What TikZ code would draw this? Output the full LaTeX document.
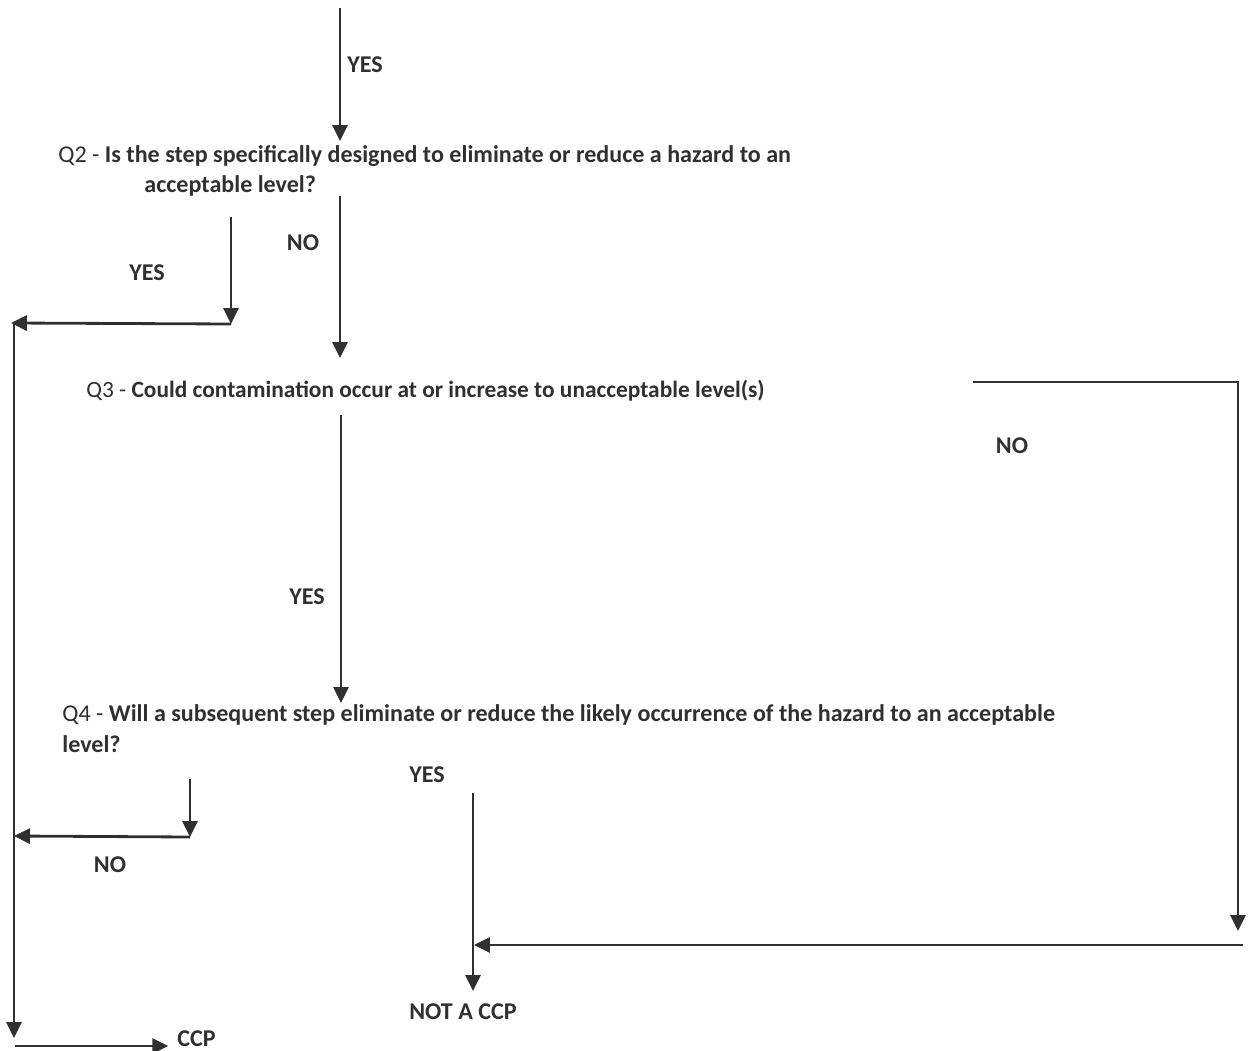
\documentclass[tikz,border=0pt]{standalone}
\usepackage{fontspec}
\setmainfont{Carlito}
\usetikzlibrary{arrows.meta}
\definecolor{ink}{HTML}{303030}
\begin{document}
\begin{tikzpicture}[x=0.02cm,y=-0.02cm,
  wire/.style={draw=ink,line width=1.6pt},
  arr/.style={wire,-{Triangle[width=8.5pt,length=9pt]}},
  lbl/.style={text=ink,font=\fontsize{13.7}{17}\selectfont\bfseries,inner sep=0pt},
  qtext/.style={lbl,anchor=north west,align=left}]
\useasboundingbox (0,0) rectangle (1251,1051);
% texts
\node[qtext] (q2) at (58,145) {{\mdseries Q2 -} Is the step specifically designed to eliminate or reduce a hazard to an\\\hspace{49pt}acceptable level?};
\node[lbl,anchor=base west,font=\fontsize{13.3}{17}\selectfont\bfseries] (q3) at (86,397) {{\mdseries Q3 -} Could contamination occur at or increase to unacceptable level(s)};
\node[qtext,font=\fontsize{13.7}{18}\selectfont\bfseries] (q4) at (62,704) {{\mdseries Q4 -} Will a subsequent step eliminate or reduce the likely occurrence of the hazard to an acceptable\\level?};
\node[lbl,anchor=base west] (yes1) at (347,73) {YES};
\node[lbl,anchor=base] (no2) at (303,250) {NO};
\node[lbl,anchor=base] (yes2) at (147,280) {YES};
\node[lbl,anchor=base] (yes3) at (307,604) {YES};
\node[lbl,anchor=base] (no3) at (1012,453) {NO};
\node[lbl,anchor=base] (yes4) at (427,782) {YES};
\node[lbl,anchor=base] (no4) at (110,872) {NO};
\node[lbl,anchor=base] (notccp) at (463,1019) {NOT A CCP};
\node[lbl,anchor=base west] (ccp) at (177,1046) {CCP};
% coordinates
\coordinate (a0) at (340,8);    \coordinate (a1) at (340,141);
\coordinate (b0) at (340,196);  \coordinate (b1) at (340,358);
\coordinate (c0) at (231,217);  \coordinate (c1) at (231,324); \coordinate (c2) at (11,323);
\coordinate (d0) at (14,324);   \coordinate (d1) at (14,1038);
\coordinate (e0) at (341,415);  \coordinate (e1) at (341,703);
\coordinate (f0) at (973,382);  \coordinate (f1) at (1238,382); \coordinate (f2) at (1238,931);
\coordinate (g0) at (1243,945); \coordinate (g1) at (474,945);
\coordinate (h0) at (473,793);  \coordinate (h1) at (473,991);
\coordinate (i0) at (190,779);  \coordinate (i1) at (190,837); \coordinate (i2) at (14,836);
\coordinate (j0) at (15,1046);
% connectors
\draw[arr] (a0) -- (a1);
\draw[arr] (b0) -- (b1);
\draw[arr] (c0) -- (c1);
\draw[arr] (c1) -- (c2);
\draw[arr] (d0) -- (d1);
\draw[arr] (e0) -- (e1);
\draw[arr] (f0) -- (f1) -- (f2);
\draw[arr] (g0) -- (g1);
\draw[arr] (h0) -- (h1);
\draw[arr] (i0) -- (i1);
\draw[arr] (i1) -- (i2);
\draw[arr,shorten >=5pt] (j0) -- (j0 -| ccp.west);
\end{tikzpicture}
\end{document}
